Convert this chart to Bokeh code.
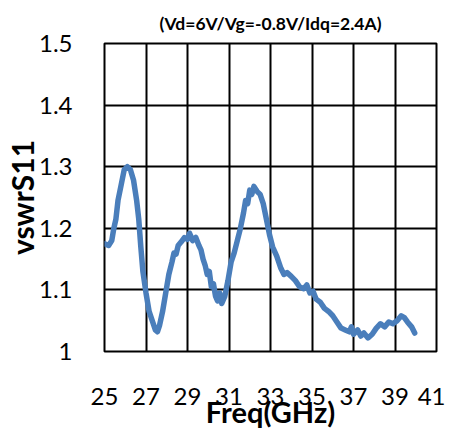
from bokeh.plotting import figure
from bokeh.models import FixedTicker, Range1d
from bokeh.embed import file_html
from bokeh.resources import INLINE

title_text = "(Vd=6V/Vg=-0.8V/Idq=2.4A)"
x_label = "Freq(GHz)"
y_label = "vswrS11"
x_ticks = [25, 27, 29, 31, 33, 35, 37, 39, 41]
y_ticks = [1.0, 1.1, 1.2, 1.3, 1.4, 1.5]

freq = [25.0, 25.2, 25.35, 25.45, 25.55, 25.65, 25.8, 25.95, 26.1, 26.25, 26.4, 26.55, 26.65,
        26.75, 26.85, 27.0, 27.15, 27.3, 27.45, 27.55, 27.65, 27.8, 27.95, 28.1, 28.25, 28.35,
        28.45, 28.55, 28.7, 28.85, 29.0, 29.1, 29.25, 29.4, 29.55, 29.65, 29.75, 29.85, 29.95,
        30.05, 30.15, 30.25, 30.35, 30.45, 30.55, 30.65, 30.8, 30.95, 31.1, 31.25, 31.4, 31.55,
        31.7, 31.8, 31.9, 32.0, 32.1, 32.2, 32.35, 32.5, 32.65, 32.8, 32.95, 33.1, 33.3, 33.5,
        33.65, 33.8, 34.0, 34.2, 34.4, 34.6, 34.75, 34.9, 35.05, 35.2, 35.4, 35.6, 35.8, 36.0,
        36.2, 36.4, 36.6, 36.8, 36.9, 37.0, 37.2, 37.35, 37.5, 37.7, 37.9, 38.1, 38.3, 38.5,
        38.7, 38.9, 39.1, 39.3, 39.45, 39.6, 39.8, 39.95]
vswr = [1.175, 1.172, 1.18, 1.20, 1.215, 1.245, 1.27, 1.295, 1.300, 1.295, 1.278, 1.245, 1.215,
        1.17, 1.13, 1.095, 1.065, 1.05, 1.035, 1.032, 1.042, 1.065, 1.095, 1.125, 1.145, 1.16,
        1.158, 1.172, 1.178, 1.185, 1.182, 1.192, 1.18, 1.185, 1.172, 1.165, 1.15, 1.14, 1.125,
        1.13, 1.105, 1.11, 1.09, 1.082, 1.095, 1.078, 1.09, 1.115, 1.145, 1.16, 1.18, 1.2,
        1.225, 1.245, 1.24, 1.262, 1.255, 1.268, 1.26, 1.255, 1.24, 1.215, 1.19, 1.17, 1.155, 1.135,
        1.125, 1.128, 1.122, 1.115, 1.105, 1.102, 1.108, 1.095, 1.098, 1.085, 1.08, 1.07, 1.065, 1.058,
        1.048, 1.038, 1.035, 1.032, 1.04, 1.028, 1.035, 1.025, 1.03, 1.022, 1.028, 1.038, 1.045, 1.04,
        1.048, 1.045, 1.05, 1.058, 1.055, 1.048, 1.04, 1.03]

p = figure(frame_width=332, frame_height=308, output_backend="svg", toolbar_location=None,
           x_range=Range1d(25, 41), y_range=Range1d(1.0, 1.5),
           min_border_left=97, min_border_right=9, min_border_top=43, min_border_bottom=76,
           title=title_text)
p.background_fill_color = "white"
p.border_fill_color = "white"
p.outline_line_color = "black"
p.outline_line_width = 2

p.title.text_font = "Lato"
p.title.text_font_size = "17.5px"
p.title.text_font_style = "bold"
p.title.align = "center"
p.title.text_color = "black"
p.title.standoff = 19

p.line(freq, vswr, line_color="#4A7EBB", line_width=5.5, line_join="round", line_cap="round")

for ax in (p.xaxis[0], p.yaxis[0]):
    ax.axis_line_color = None
    ax.major_tick_line_color = None
    ax.minor_tick_line_color = None
    ax.major_label_text_font = "Lato"
    ax.major_label_text_font_size = "24px"
    ax.major_label_text_color = "black"
    ax.axis_label_text_font = "Lato"
    ax.axis_label_text_font_style = "bold"
    ax.axis_label_text_color = "black"

p.xaxis.ticker = FixedTicker(ticks=x_ticks)
p.yaxis.ticker = FixedTicker(ticks=y_ticks)
p.yaxis.major_label_overrides = {1.0: "1"}
p.xaxis.axis_label = x_label
p.yaxis.axis_label = y_label
p.xaxis.axis_label_text_font_size = "29px"
p.yaxis.axis_label_text_font_size = "30px"
p.xaxis.major_label_standoff = 30
p.xaxis.axis_label_standoff = -14
p.yaxis.major_label_standoff = 26
p.yaxis.axis_label_standoff = -4

p.xgrid.ticker = FixedTicker(ticks=x_ticks)
p.ygrid.ticker = FixedTicker(ticks=y_ticks)
p.xgrid.grid_line_color = "black"
p.ygrid.grid_line_color = "black"
p.xgrid.grid_line_width = 2
p.ygrid.grid_line_width = 2

open("out.html", "w").write(file_html(p, INLINE))
